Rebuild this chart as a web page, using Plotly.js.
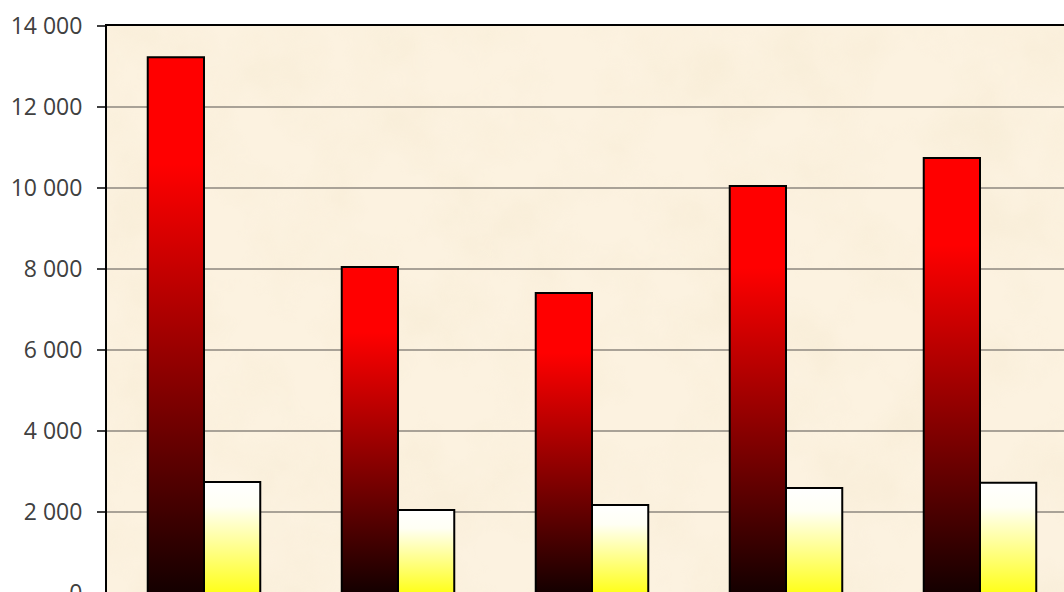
<!DOCTYPE html>
<html>
<head>
<meta charset="utf-8">
<script src="https://cdn.plot.ly/plotly-3.0.1.min.js"></script>
<style>
html,body{margin:0;padding:0;overflow:hidden;background:#fff;width:1064px;height:592px;}
#chart{width:1080px;height:615px;}
</style>
</head>
<body>
<div id="chart"></div>
<script>
// Data
const categories = ["1", "2", "3", "4", "5"];
const seriesRed = [13230, 8050, 7410, 10050, 10740];
const seriesYellow = [2740, 2050, 2170, 2590, 2720];
const yTickVals = [0, 2000, 4000, 6000, 8000, 10000, 12000, 14000];

const texture = "<svg xmlns='http://www.w3.org/2000/svg' width='970' height='567'>" +
  "<filter id='n'><feTurbulence type='fractalNoise' baseFrequency='0.012' numOctaves='4' seed='7'/>" +
  "<feColorMatrix values='0 0 0 0 0.88  0 0 0 0 0.78  0 0 0 0 0.58  1.3 0 0 0 -0.52'/></filter>" +
  "<rect width='100%' height='100%' fill='#FCF2E0'/>" +
  "<rect width='100%' height='100%' filter='url(#n)' opacity='0.5'/></svg>";
const textureUrl = "data:image/svg+xml;charset=utf-8," + encodeURIComponent(texture);

const traces = [
  {
    type: "bar", x: categories, y: seriesRed, name: "Série 1",
    marker: {color: "#C00000", line: {color: "#000000", width: 2}},
    hoverinfo: "y"
  },
  {
    type: "bar", x: categories, y: seriesYellow, name: "Série 2",
    marker: {color: "#FFFF80", line: {color: "#000000", width: 2}},
    hoverinfo: "y"
  }
];

const layout = {
  width: 1080, height: 615,
  margin: {l: 107, r: 3, t: 26, b: 22},
  paper_bgcolor: "#FFFFFF",
  plot_bgcolor: "#F9EDD7",
  separators: ". ",
  showlegend: false,
  barmode: "group",
  bargap: 0.42,
  bargroupgap: 0,
  font: {family: "'Open Sans', Lato, sans-serif", color: "#404040", size: 23},
  xaxis: {
    showticklabels: false, ticks: "", showgrid: false,
    showline: true, mirror: true, linecolor: "#000000", linewidth: 2,
    fixedrange: true
  },
  yaxis: {
    range: [0, 14000], tickvals: yTickVals, tickformat: ",d",
    showgrid: true, gridcolor: "#A9A297", gridwidth: 1.5,
    showline: true, linecolor: "#000000", linewidth: 2,
    ticks: "outside", ticklen: 8, tickcolor: "#404040", tickwidth: 1.5,
    ticklabelstandoff: 10,
    tickfont: {family: "'Open Sans', Lato, sans-serif", size: 23, color: "#404040"},
    zeroline: false, fixedrange: true
  },
  images: [{
    source: textureUrl, xref: "paper", yref: "paper",
    x: 0, y: 1, sizex: 1, sizey: 1, sizing: "stretch",
    xanchor: "left", yanchor: "top", layer: "below"
  }]
};

function applyGradients(gd) {
  const svg = gd.querySelector("svg.main-svg");
  if (!svg) return;
  const ns = "http://www.w3.org/2000/svg";
  let defs = svg.querySelector("defs");
  if (!defs) { defs = document.createElementNS(ns, "defs"); svg.insertBefore(defs, svg.firstChild); }
  function grad(id, stops) {
    if (svg.querySelector("#" + id)) return;
    const g = document.createElementNS(ns, "linearGradient");
    g.setAttribute("id", id);
    g.setAttribute("x1", "0"); g.setAttribute("y1", "0");
    g.setAttribute("x2", "0"); g.setAttribute("y2", "1");
    stops.forEach(s => {
      const st = document.createElementNS(ns, "stop");
      st.setAttribute("offset", s[0]);
      st.setAttribute("stop-color", s[1]);
      g.appendChild(st);
    });
    defs.appendChild(g);
  }
  grad("gradRed", [["0", "#FF0000"], ["0.2", "#FF0000"], ["1", "#140000"]]);
  grad("gradYellow", [["0", "#FFFFFF"], ["0.22", "#FFFFF4"], ["1", "#FFFF1A"]]);
  const barTraces = gd.querySelectorAll(".barlayer .trace.bars");
  const ids = ["gradRed", "gradYellow"];
  barTraces.forEach((t, i) => {
    t.querySelectorAll(".point path").forEach(p => {
      p.style.fill = "url(#" + ids[i % 2] + ")";
      p.style.fillOpacity = 1;
    });
  });
}

const gd = document.getElementById("chart");
Plotly.newPlot(gd, traces, layout, {displayModeBar: false, staticPlot: true}).then(() => {
  applyGradients(gd);
  gd.on && gd.on("plotly_afterplot", () => applyGradients(gd));
});
</script>
</body>
</html>
